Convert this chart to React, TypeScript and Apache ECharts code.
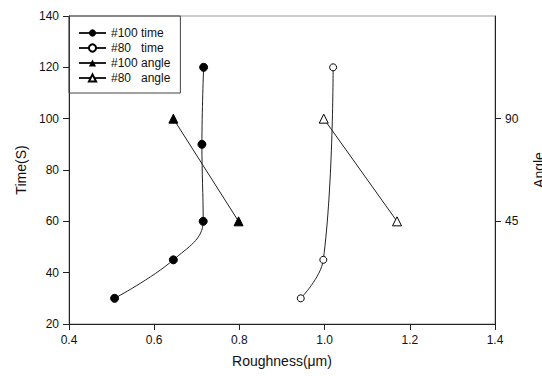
import React, { useEffect, useRef } from "react";
import * as echarts from "echarts";

const seriesNames = ["#100 time", "#80   time", "#100 angle", "#80   angle"];
const time100: [number, number][] = [[0.507, 30], [0.645, 45], [0.715, 60], [0.712, 90], [0.716, 120]];
const time80: [number, number][] = [[0.944, 30], [0.997, 45], [1.02, 120]];
const angle100: [number, number][] = [[0.645, 90], [0.798, 45]];
const angle80: [number, number][] = [[0.998, 90], [1.17, 45]];
const xTicks = { min: 0.4, max: 1.4, interval: 0.2 };
const timeTicks = { min: 20, max: 140, interval: 20 };
const angleRange = { min: 0, max: 135 };
const angleLabels = [45, 90];

export default function App() {
  const ref = useRef<HTMLDivElement>(null);
  useEffect(() => {
    if (!ref.current) return;
    const chart = echarts.init(ref.current, null, { renderer: "svg" });
    const font = "Liberation Sans, Arial, sans-serif";
    const lineStyle = { color: "#222", width: 1 };
    const axisLine = { show: true, lineStyle: { color: "#222", width: 1 } };
    const tick = { show: true, length: 6, lineStyle: { color: "#222" } };
    const lbl = { fontSize: 12, color: "#111", margin: 10, fontFamily: font };
    const nameStyle = { fontSize: 14, color: "#111", fontFamily: font };
    chart.setOption({
      animation: false,
      textStyle: { fontFamily: font },
      grid: {
        left: 69, right: 47, top: 16, bottom: 52,
        show: true, borderColor: "#999", borderWidth: 1,
        outerBoundsMode: "none", containLabel: false,
      },
      legend: {
        orient: "vertical",
        left: 69,
        top: 16,
        data: seriesNames,
        itemWidth: 27,
        itemHeight: 9,
        itemGap: 3,
        padding: [11, 10, 9, 9],
        borderColor: "#444",
        borderWidth: 1,
        textStyle: { fontFamily: font, fontSize: 12, color: "#111" },
        selectedMode: false,
      },
      xAxis: {
        type: "value",
        min: xTicks.min,
        max: xTicks.max,
        interval: xTicks.interval,
        name: "Roughness(\u03bcm)",
        nameLocation: "middle",
        nameGap: 30,
        nameTextStyle: nameStyle,
        axisLine,
        axisTick: tick,
        axisLabel: { ...lbl, formatter: (v: number) => v.toFixed(1) },
        splitLine: { show: false },
      },
      yAxis: [
        {
          type: "value",
          min: timeTicks.min,
          max: timeTicks.max,
          interval: timeTicks.interval,
          name: "Time(S)",
          nameLocation: "middle",
          nameGap: 40,
          nameTextStyle: nameStyle,
          axisLine,
          axisTick: tick,
          axisLabel: lbl,
          splitLine: { show: false },
        },
        {
          type: "value",
          position: "right",
          min: angleRange.min,
          max: angleRange.max,
          name: "Angle",
          nameLocation: "middle",
          nameRotate: 90,
          nameGap: 37,
          nameTextStyle: nameStyle,
          axisLine,
          axisTick: { ...tick, customValues: angleLabels },
          axisLabel: { ...lbl, customValues: angleLabels },
          splitLine: { show: false },
        },
      ],
      series: [
        {
          name: seriesNames[0], type: "line", data: time100, smooth: 0.4,
          symbol: "circle", symbolSize: 8, lineStyle,
          itemStyle: { color: "#000", borderColor: "#000" },
        },
        {
          name: seriesNames[1], type: "line", data: time80, smooth: 0.4,
          symbol: "circle", symbolSize: 7, lineStyle,
          itemStyle: { color: "#fff", borderColor: "#000", borderWidth: 1 },
        },
        {
          name: seriesNames[2], type: "line", yAxisIndex: 1, data: angle100,
          symbol: "triangle", symbolSize: 9, lineStyle,
          itemStyle: { color: "#000", borderColor: "#000" },
        },
        {
          name: seriesNames[3], type: "line", yAxisIndex: 1, data: angle80,
          symbol: "triangle", symbolSize: 9, lineStyle,
          itemStyle: { color: "#fff", borderColor: "#000", borderWidth: 1 },
        },
      ],
    });
    return () => chart.dispose();
  }, []);
  return <div ref={ref} style={{ width: 542, height: 376, position: "absolute", left: 0, top: 0 }} />;
}
